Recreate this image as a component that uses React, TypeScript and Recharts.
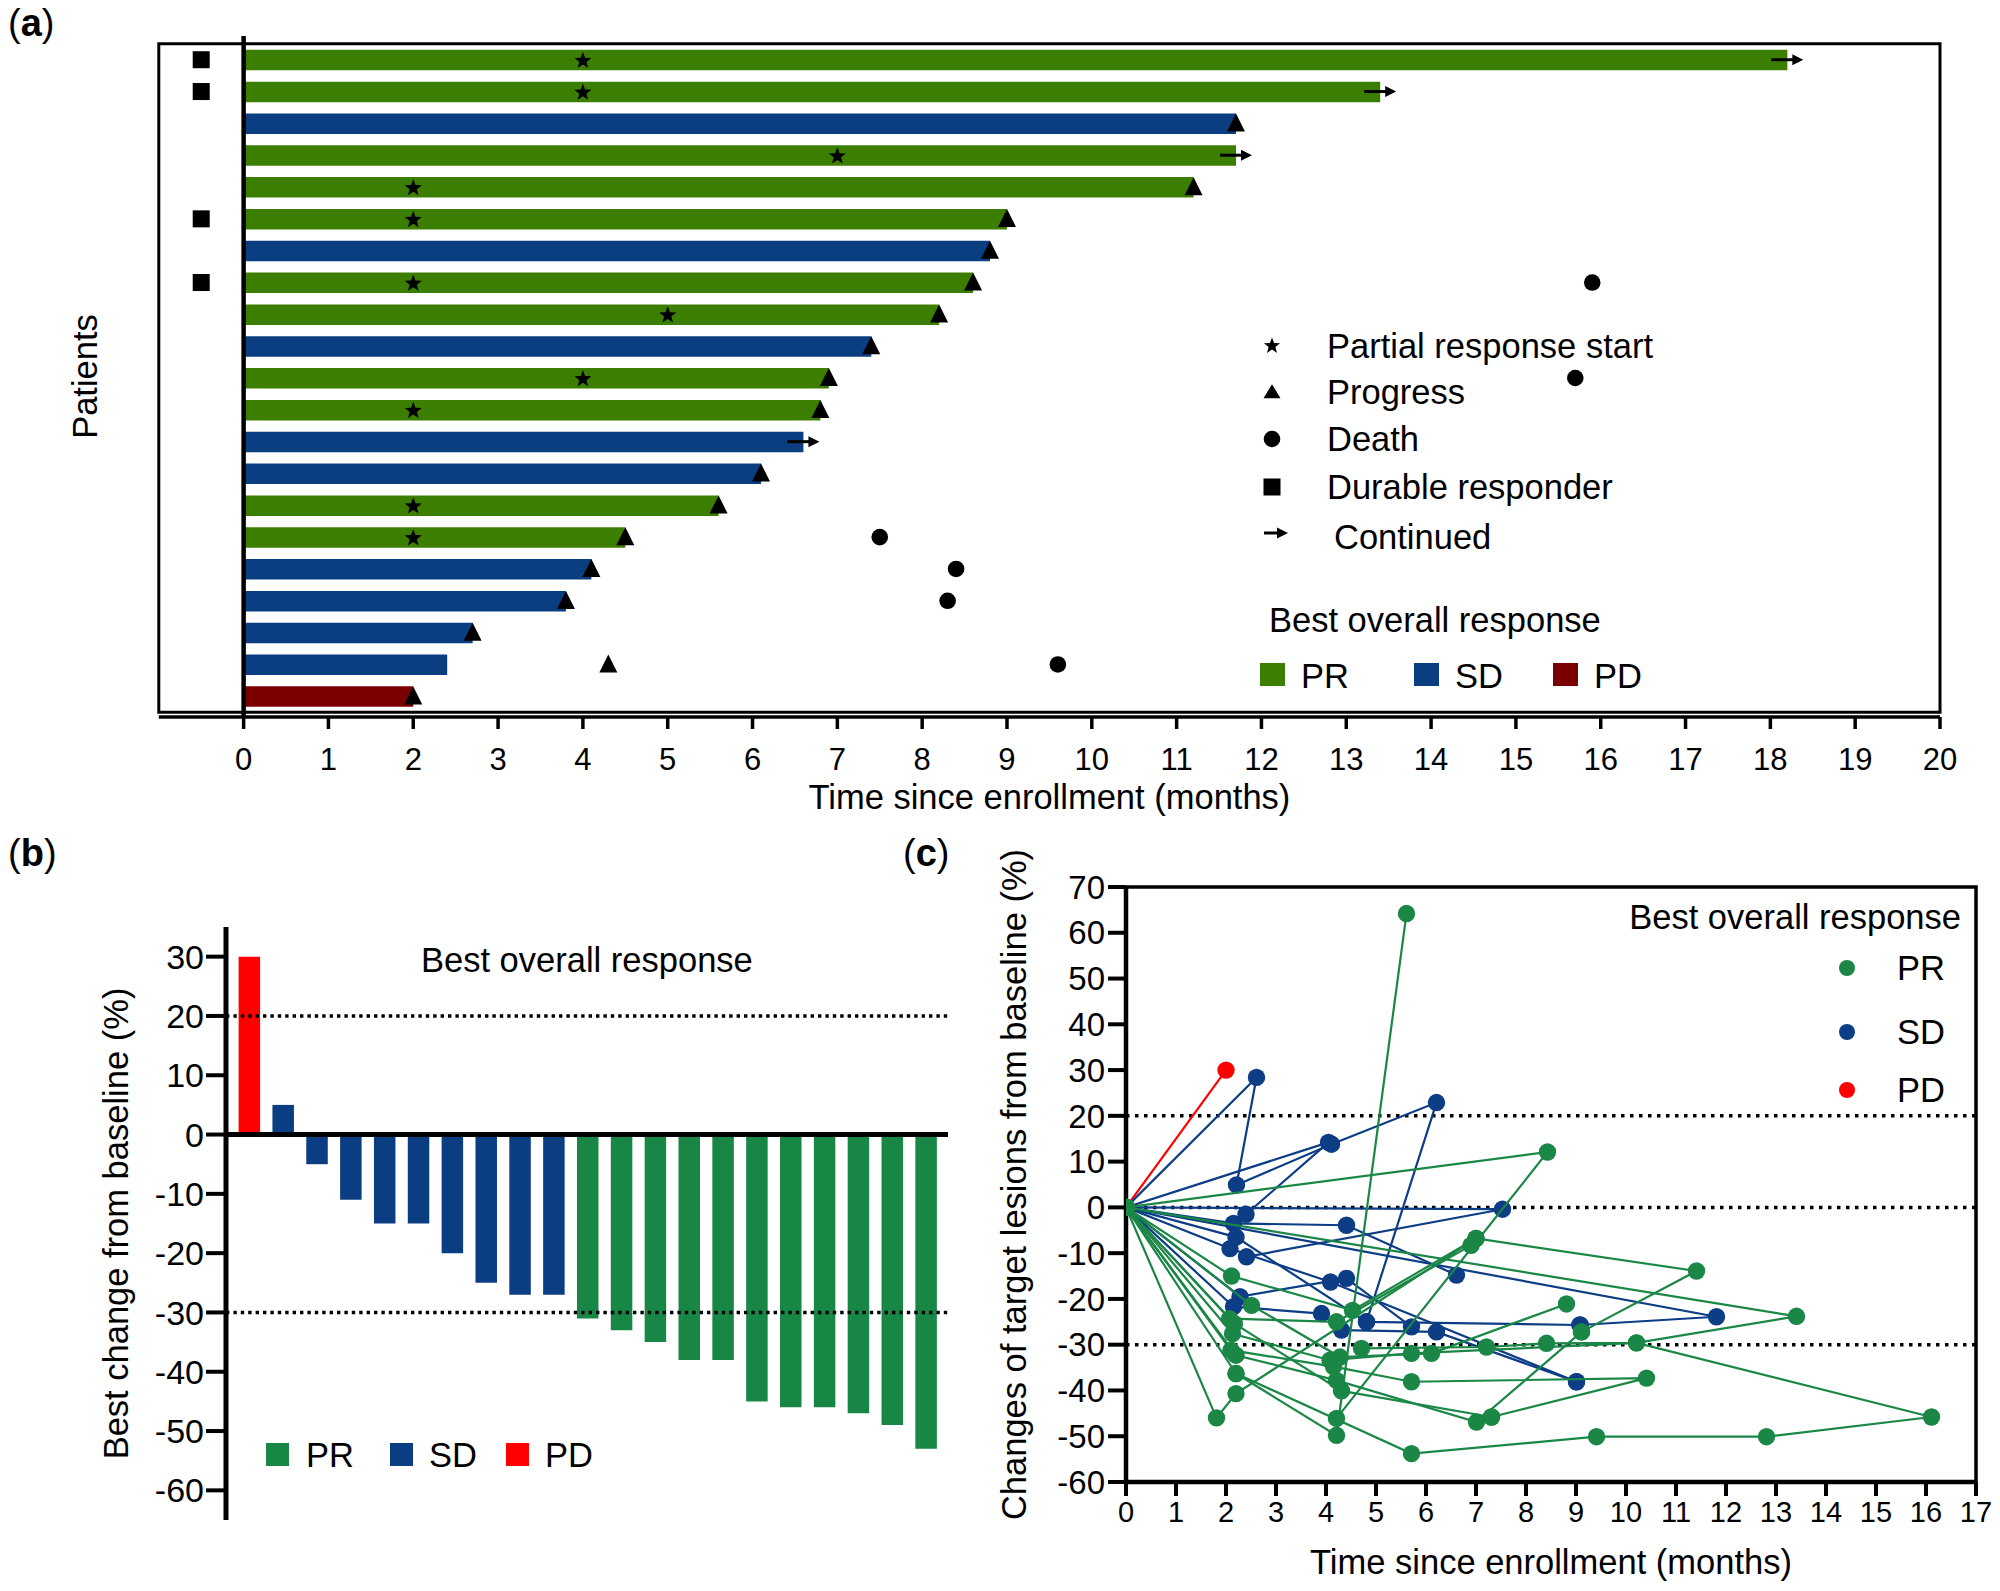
import React from 'react';
import {
  ComposedChart, BarChart, ScatterChart, Bar, Cell, Scatter, XAxis, YAxis,
  ReferenceLine, ReferenceArea,
} from 'recharts';

const FONT = '"Liberation Sans", Arial, Helvetica, sans-serif';
const BLACK = '#000000';

// ---------------- Panel (a) : swimmer plot ----------------
const patientIds = ['P01','P02','P03','P04','P05','P06','P07','P08','P09','P10','P11','P12','P13','P14','P15','P16','P17','P18','P19','P20','P21'];
const bestResponseA = ['PR','PR','SD','PR','PR','PR','SD','PR','PR','SD','PR','PR','SD','SD','PR','PR','SD','SD','SD','SD','PD'];
const durationA = [18.2, 13.4, 11.7, 11.7, 11.2, 9.0, 8.8, 8.6, 8.2, 7.4, 6.9, 6.8, 6.6, 6.1, 5.6, 4.5, 4.1, 3.8, 2.7, 2.4, 2.0];
const prStartA = [4, 4, null, 7, 2, 2, null, 2, 5, null, 4, 2, null, null, 2, 2, null, null, null, null, null];
const progressA = [null, null, 11.7, null, 11.2, 9.0, 8.8, 8.6, 8.2, 7.4, 6.9, 6.8, null, 6.1, 5.6, 4.5, 4.1, 3.8, 2.7, 4.3, 2.0];
const deathA = [null, null, null, null, null, null, null, 15.9, null, null, 15.7, null, null, null, null, 7.5, 8.4, 8.3, null, 9.6, null];
const durableA = [-0.5, -0.5, null, null, null, -0.5, null, -0.5, null, null, null, null, null, null, null, null, null, null, null, null, null];
const continuedA = [18.2, 13.4, null, 11.7, null, null, null, null, null, null, null, null, 6.6, null, null, null, null, null, null, null, null];
const monthTicksA = [0,1,2,3,4,5,6,7,8,9,10,11,12,13,14,15,16,17,18,19,20];
const colorsA: Record<string, string> = { PR: '#3c7f00', SD: '#0a3e80', PD: '#7a0000' };

const rowsA = patientIds.map((p, i) => ({
  patient: p,
  response: bestResponseA[i],
  duration: durationA[i],
  prStart: prStartA[i],
  progress: progressA[i],
  death: deathA[i],
  durable: durableA[i],
  continued: continuedA[i],
}));

// ---------------- Panel (b) : waterfall ----------------
const waterfallIds = ['W01','W02','W03','W04','W05','W06','W07','W08','W09','W10','W11','W12','W13','W14','W15','W16','W17','W18','W19','W20','W21'];
const waterfallValues = [30, 5, -5, -11, -15, -15, -20, -25, -27, -27, -31, -33, -35, -38, -38, -45, -46, -46, -47, -49, -53];
const waterfallResponse = ['PD','SD','SD','SD','SD','SD','SD','SD','SD','SD','PR','PR','PR','PR','PR','PR','PR','PR','PR','PR','PR'];
const ticksB = [-60, -50, -40, -30, -20, -10, 0, 10, 20, 30];
const colorsB: Record<string, string> = { PR: '#188644', SD: '#0b3d82', PD: '#ff0000' };
const rowsB = waterfallIds.map((id, i) => ({ id, change: waterfallValues[i], response: waterfallResponse[i] }));

// ---------------- Panel (c) : spider plot ----------------
const spiderPD1 = [[0, 0], [2.0, 30.0]];
const spiderSD1 = [[0, 0], [2.61, 28.4], [2.21, 4.9], [4.11, 13.8], [6.21, 22.9], [4.81, -25.0]];
const spiderSD2 = [[0, 0], [4.05, 14.2], [2.4, -1.5]];
const spiderSD3 = [[0, 0], [2.15, -3.5], [4.41, -3.9], [6.61, -14.8]];
const spiderSD4 = [[0, 0], [2.08, -9.0], [4.09, -16.3], [9.01, -38.1]];
const spiderSD5 = [[0, 0], [7.53, -0.4], [2.41, -10.8]];
const spiderSD6 = [[0, 0], [2.28, -19.5], [4.41, -15.5], [5.71, -26.1]];
const spiderSD7 = [[0, 0], [2.15, -21.7], [3.91, -23.2], [4.31, -26.8], [6.21, -27.2], [9.01, -38.1]];
const spiderSD8 = [[0, 0], [2.2, -6.5], [4.81, -25.0], [9.08, -25.7]];
const spiderSD9 = [[0, 0], [11.81, -23.9], [9.08, -25.7]];
const spiderPR1 = [[0, 0], [2.11, -15.0], [4.53, -22.5], [7.0, -6.8], [11.41, -13.9], [9.11, -27.2]];
const spiderPR2 = [[0, 0], [8.43, 12.1], [4.21, -46.1]];
const spiderPR3 = [[0, 0], [2.51, -21.4], [4.28, -32.7], [6.11, -31.9], [8.81, -21.1]];
const spiderPR4 = [[0, 0], [13.41, -23.8], [10.21, -29.6], [8.41, -29.7], [7.21, -30.5], [4.71, -30.8]];
const spiderPR5 = [[0, 0], [2.07, -24.3], [4.21, -25.0], [6.9, -8.3]];
const spiderPR6 = [[0, 0], [2.13, -27.6], [4.08, -33.4], [5.71, -31.9], [10.21, -29.6], [16.11, -45.8], [12.81, -50.1], [9.41, -50.1], [5.71, -53.8], [2.2, -36.3]];
const spiderPR7 = [[0, 0], [2.1, -31.2], [4.15, -34.8], [5.71, -38.1], [10.41, -37.3], [7.31, -45.8]];
const spiderPR8 = [[0, 0], [2.2, -32.3], [4.21, -37.8], [7.01, -46.9], [9.11, -27.2]];
const spiderPR9 = [[0, 0], [2.17, -25.4], [4.31, -40.1], [7.31, -45.8]];
const spiderPR10 = [[0, 0], [2.2, -36.3], [4.21, -49.8], [5.61, 64.2]];
const spiderPR11 = [[0, 0], [1.81, -46.0], [2.2, -40.7], [7.0, -6.8]];
const monthTicksC = [0,1,2,3,4,5,6,7,8,9,10,11,12,13,14,15,16,17];
const ticksC = [-60, -50, -40, -30, -20, -10, 0, 10, 20, 30, 40, 50, 60, 70];
const colorsC: Record<string, string> = { PR: '#1b8746', SD: '#0c3d85', PD: '#ff0000' };

const spiderSeries = [
  { id: 'PD1', response: 'PD', points: spiderPD1 },
  { id: 'SD1', response: 'SD', points: spiderSD1 },
  { id: 'SD2', response: 'SD', points: spiderSD2 },
  { id: 'SD3', response: 'SD', points: spiderSD3 },
  { id: 'SD4', response: 'SD', points: spiderSD4 },
  { id: 'SD5', response: 'SD', points: spiderSD5 },
  { id: 'SD6', response: 'SD', points: spiderSD6 },
  { id: 'SD7', response: 'SD', points: spiderSD7 },
  { id: 'SD8', response: 'SD', points: spiderSD8 },
  { id: 'SD9', response: 'SD', points: spiderSD9 },
  { id: 'PR1', response: 'PR', points: spiderPR1 },
  { id: 'PR2', response: 'PR', points: spiderPR2 },
  { id: 'PR3', response: 'PR', points: spiderPR3 },
  { id: 'PR4', response: 'PR', points: spiderPR4 },
  { id: 'PR5', response: 'PR', points: spiderPR5 },
  { id: 'PR6', response: 'PR', points: spiderPR6 },
  { id: 'PR7', response: 'PR', points: spiderPR7 },
  { id: 'PR8', response: 'PR', points: spiderPR8 },
  { id: 'PR9', response: 'PR', points: spiderPR9 },
  { id: 'PR10', response: 'PR', points: spiderPR10 },
  { id: 'PR11', response: 'PR', points: spiderPR11 },
];

// ---------------- shapes ----------------
const ok = (cx: any, cy: any) => typeof cx === 'number' && typeof cy === 'number' && isFinite(cx) && isFinite(cy);

const StarIcon = ({ cx, cy, r = 9 }: any) => {
  const pts: string[] = [];
  for (let k = 0; k < 10; k++) {
    const rr = k % 2 === 0 ? r : r * 0.42;
    const a = -Math.PI / 2 + (k * Math.PI) / 5;
    pts.push(`${(cx + rr * Math.cos(a)).toFixed(2)},${(cy + 1 + rr * Math.sin(a)).toFixed(2)}`);
  }
  return <polygon points={pts.join(' ')} fill={BLACK} />;
};
const TriangleIcon = ({ cx, cy, w = 18, h = 18 }: any) => (
  <polygon points={`${cx},${cy - h * 0.55} ${cx - w / 2},${cy + h * 0.45} ${cx + w / 2},${cy + h * 0.45}`} fill={BLACK} />
);
const CircleIcon = ({ cx, cy, r = 8.3 }: any) => <circle cx={cx} cy={cy} r={r} fill={BLACK} />;
const SquareIcon = ({ cx, cy, s = 17 }: any) => <rect x={cx - s / 2} y={cy - s / 2} width={s} height={s} fill={BLACK} />;
const ArrowIcon = ({ cx, cy, back = 16, fwd = 16 }: any) => (
  <g>
    <line x1={cx - back} y1={cy} x2={cx + fwd - 8} y2={cy} stroke={BLACK} strokeWidth={3} />
    <polygon points={`${cx + fwd},${cy} ${cx + fwd - 11},${cy - 5.5} ${cx + fwd - 11},${cy + 5.5}`} fill={BLACK} />
  </g>
);

const starShape = (p: any) => (ok(p.cx, p.cy) ? <StarIcon cx={p.cx} cy={p.cy} /> : <g />);
const triShape = (p: any) => (ok(p.cx, p.cy) ? <TriangleIcon cx={p.cx} cy={p.cy} /> : <g />);
const deathShape = (p: any) => (ok(p.cx, p.cy) ? <CircleIcon cx={p.cx} cy={p.cy} /> : <g />);
const durableShape = (p: any) => (ok(p.cx, p.cy) ? <SquareIcon cx={p.cx} cy={p.cy} /> : <g />);
const arrowShape = (p: any) => (ok(p.cx, p.cy) ? <ArrowIcon cx={p.cx} cy={p.cy} /> : <g />);
const makeDot = (color: string) => (p: any) => (ok(p.cx, p.cy) ? <circle cx={p.cx} cy={p.cy} r={8.7} fill={color} /> : <g />);

// ---------------- panels ----------------
const PanelA = () => (
  <ComposedChart
    layout="vertical"
    width={2000}
    height={830}
    data={rowsA}
    margin={{ top: 36, right: 60, bottom: 18, left: 58.8 }}
  >
    <XAxis
      type="number"
      domain={[-1, 20]}
      ticks={monthTicksA}
      interval={0}
      allowDataOverflow
      tickSize={12}
      tickMargin={19}
      height={95}
      axisLine={{ stroke: BLACK, strokeWidth: 3.5 }}
      tickLine={{ stroke: BLACK, strokeWidth: 3.5 }}
      tick={{ fontSize: 31, fill: BLACK }}
      label={{ value: 'Time since enrollment (months)', position: 'insideBottom', offset: 3, style: { fontSize: 34.5, fill: BLACK, textAnchor: 'middle' } }}
    />
    <YAxis
      type="category"
      dataKey="patient"
      width={100}
      tick={false}
      tickLine={false}
      axisLine={false}
      padding={{ top: 7.8, bottom: 4.8 }}
      label={{ value: 'Patients', angle: -90, position: 'insideLeft', offset: 26, style: { fontSize: 34.5, fill: BLACK, textAnchor: 'middle' } }}
    />
    <ReferenceArea x1={-1} x2={20} fill="none" fillOpacity={0} stroke={BLACK} strokeWidth={3} ifOverflow="visible" />
    <Bar dataKey="duration" barSize={20.5} isAnimationActive={false}>
      {rowsA.map((r, i) => (
        <Cell key={i} fill={colorsA[r.response]} />
      ))}
    </Bar>
    <ReferenceLine x={0} stroke={BLACK} strokeWidth={4.5} />
    <Scatter dataKey="prStart" shape={starShape} isAnimationActive={false} />
    <Scatter dataKey="progress" shape={triShape} isAnimationActive={false} />
    <Scatter dataKey="death" shape={deathShape} isAnimationActive={false} />
    <Scatter dataKey="durable" shape={durableShape} isAnimationActive={false} />
    <Scatter dataKey="continued" shape={arrowShape} isAnimationActive={false} />
  </ComposedChart>
);

const PanelB = () => (
  <BarChart width={960} height={751} data={rowsB} margin={{ top: 87, right: 12, bottom: 71, left: 0 }}>
    <XAxis dataKey="id" type="category" hide padding={{ left: 6.6, right: 4.8 }} />
    <YAxis
      type="number"
      domain={[-65, 35]}
      ticks={ticksB}
      interval={0}
      width={226}
      tickSize={20}
      tickMargin={2}
      axisLine={{ stroke: BLACK, strokeWidth: 5 }}
      tickLine={{ stroke: BLACK, strokeWidth: 4 }}
      tick={{ fontSize: 34, fill: BLACK }}
      label={{ value: 'Best change from baseline (%)', angle: -90, position: 'insideLeft', offset: 116, style: { fontSize: 34.5, fill: BLACK, textAnchor: 'middle' } }}
    />
    <ReferenceLine y={20} stroke={BLACK} strokeWidth={3.4} strokeDasharray="3.4 4" />
    <ReferenceLine y={-30} stroke={BLACK} strokeWidth={3.4} strokeDasharray="3.4 4" />
    <Bar dataKey="change" barSize={21.5} isAnimationActive={false}>
      {rowsB.map((r, i) => (
        <Cell key={i} fill={colorsB[r.response]} />
      ))}
    </Bar>
    <ReferenceLine y={0} stroke={BLACK} strokeWidth={5} />
  </BarChart>
);

const PanelC = () => (
  <ScatterChart width={1040} height={751} margin={{ top: 47, right: 24, bottom: 9, left: 0 }}>
    <XAxis
      type="number"
      dataKey="x"
      domain={[0, 17]}
      ticks={monthTicksC}
      interval={0}
      allowDataOverflow
      tickSize={14}
      tickMargin={5}
      height={100}
      axisLine={{ stroke: BLACK, strokeWidth: 4.5 }}
      tickLine={{ stroke: BLACK, strokeWidth: 4 }}
      tick={{ fontSize: 29, fill: BLACK }}
      label={{ value: 'Time since enrollment (months)', position: 'insideBottom', offset: 8, style: { fontSize: 34.5, fill: BLACK, textAnchor: 'middle' } }}
    />
    <YAxis
      type="number"
      dataKey="y"
      domain={[-60, 70]}
      ticks={ticksC}
      interval={0}
      allowDataOverflow
      width={166}
      tickSize={18}
      tickMargin={3}
      axisLine={{ stroke: BLACK, strokeWidth: 4.5 }}
      tickLine={{ stroke: BLACK, strokeWidth: 4 }}
      tick={{ fontSize: 33, fill: BLACK }}
      label={{ value: 'Changes of target lesions from baseline (%)', angle: -90, position: 'insideLeft', offset: 54, style: { fontSize: 34.5, fill: BLACK, textAnchor: 'middle' } }}
    />
    <ReferenceArea x1={0} x2={17} y1={-60} y2={70} fill="none" fillOpacity={0} stroke={BLACK} strokeWidth={3.5} ifOverflow="visible" />
    <ReferenceLine y={20} stroke={BLACK} strokeWidth={3.5} strokeDasharray="3.5 5.5" />
    <ReferenceLine y={0} stroke={BLACK} strokeWidth={3.5} strokeDasharray="3.5 5.5" />
    <ReferenceLine y={-30} stroke={BLACK} strokeWidth={3.5} strokeDasharray="3.5 5.5" />
    {spiderSeries.map((s) => (
      <Scatter
        key={s.id}
        name={s.id}
        data={s.points.map(([x, y]) => ({ x, y }))}
        fill={colorsC[s.response]}
        line={{ stroke: colorsC[s.response], strokeWidth: 2.2 }}
        shape={makeDot(colorsC[s.response])}
        isAnimationActive={false}
      />
    ))}
  </ScatterChart>
);

const T = ({ x, y, children, size = 34.5, anchor = 'start' }: any) => (
  <text x={x} y={y + size * 0.355} fontSize={size} fill={BLACK} textAnchor={anchor} fontFamily={FONT}>
    {children}
  </text>
);

const PanelLabel = ({ x, y, letter }: any) => (
  <text x={x} y={y} fontSize={38} fill={BLACK} fontFamily={FONT}>
    <tspan>(</tspan>
    <tspan fontWeight="bold">{letter}</tspan>
    <tspan>)</tspan>
  </text>
);

const Overlay = () => (
  <svg width={2000} height={1591} style={{ position: 'absolute', left: 0, top: 0, pointerEvents: 'none' }}>
    <PanelLabel x={8} y={36} letter="a" />
    <PanelLabel x={8} y={866} letter="b" />
    <PanelLabel x={903} y={866} letter="c" />

    {/* legend panel (a) */}
    <StarIcon cx={1272} cy={345} r={8.5} />
    <T x={1327} y={346}>Partial response start</T>
    <TriangleIcon cx={1272} cy={392} w={17} h={14} />
    <T x={1327} y={392}>Progress</T>
    <CircleIcon cx={1272} cy={439} r={8.3} />
    <T x={1327} y={439}>Death</T>
    <SquareIcon cx={1272} cy={487} s={17} />
    <T x={1327} y={487}>Durable responder</T>
    <ArrowIcon cx={1276} cy={533} back={12} fwd={12} />
    <T x={1334} y={537}>Continued</T>
    <T x={1269} y={620}>Best overall response</T>
    <rect x={1260} y={663} width={25} height={23} fill={colorsA.PR} />
    <T x={1301} y={676}>PR</T>
    <rect x={1414} y={663} width={25} height={23} fill={colorsA.SD} />
    <T x={1455} y={676}>SD</T>
    <rect x={1553} y={663} width={25} height={23} fill={colorsA.PD} />
    <T x={1594} y={676}>PD</T>

    {/* legend panel (b) */}
    <T x={421} y={960}>Best overall response</T>
    <rect x={266} y={1443} width={23} height={23} fill={colorsB.PR} />
    <T x={306} y={1455}>PR</T>
    <rect x={390} y={1443} width={23} height={23} fill={colorsB.SD} />
    <T x={429} y={1455}>SD</T>
    <rect x={506} y={1443} width={23} height={23} fill={colorsB.PD} />
    <T x={545} y={1455}>PD</T>

    {/* legend panel (c) */}
    <T x={1961} y={917} anchor="end">Best overall response</T>
    <circle cx={1847} cy={968} r={8} fill={colorsC.PR} />
    <T x={1897} y={968}>PR</T>
    <circle cx={1847} cy={1032} r={8} fill={colorsC.SD} />
    <T x={1897} y={1032}>SD</T>
    <circle cx={1847} cy={1090} r={8} fill={colorsC.PD} />
    <T x={1897} y={1090}>PD</T>
  </svg>
);

export default function App() {
  return (
    <div style={{ position: 'absolute', left: 0, top: 0, width: 2000, height: 1591, background: '#ffffff', fontFamily: FONT, overflow: 'hidden' }}>
      <div style={{ position: 'absolute', left: 0, top: 0 }}>
        <PanelA />
      </div>
      <div style={{ position: 'absolute', left: 0, top: 840 }}>
        <PanelB />
      </div>
      <div style={{ position: 'absolute', left: 960, top: 840 }}>
        <PanelC />
      </div>
      <Overlay />
    </div>
  );
}
